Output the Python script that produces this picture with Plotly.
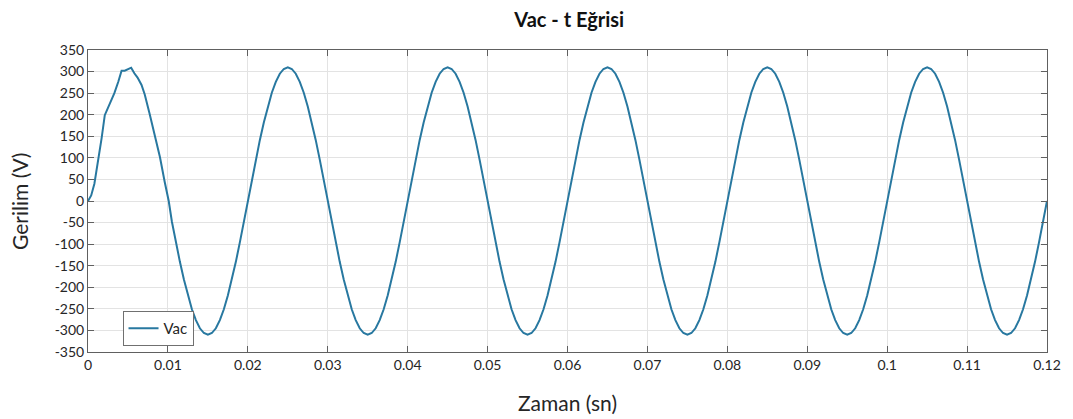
import plotly.graph_objects as go

# ---- data ----
# distorted start-up segment (t in s, V)
t_start = [0, 0.0004, 0.0008, 0.00125, 0.0017, 0.0021, 0.0023, 0.0028, 0.0033,
           0.0038, 0.0042, 0.0046, 0.0049, 0.0054, 0.0058, 0.0062, 0.0067,
           0.0071, 0.0077, 0.0083, 0.0090, 0.0096, 0.0101]
v_start = [0, 13, 40, 91, 145, 199, 207, 226, 250, 277, 302, 302, 304, 309,
           296, 286, 269, 247, 203, 153, 102, 44, 0]

# steady-state segment sampled every 0.5 ms from 0.0105 s to 0.12 s
t_steady_start = 0.0105
t_steady_step = 0.0005
v_steady = [
    -48, -96, -141, -182, -219, -251, -276, -295, -306, -310, -306, -295, -276, -251, -219, -182, -141, -96, -48, 0,
    48, 96, 141, 182, 219, 251, 276, 295, 306, 310, 306, 295, 276, 251, 219, 182, 141, 96, 48, 0,
    -48, -96, -141, -182, -219, -251, -276, -295, -306, -310, -306, -295, -276, -251, -219, -182, -141, -96, -48, 0,
    48, 96, 141, 182, 219, 251, 276, 295, 306, 310, 306, 295, 276, 251, 219, 182, 141, 96, 48, 0,
    -48, -96, -141, -182, -219, -251, -276, -295, -306, -310, -306, -295, -276, -251, -219, -182, -141, -96, -48, 0,
    48, 96, 141, 182, 219, 251, 276, 295, 306, 310, 306, 295, 276, 251, 219, 182, 141, 96, 48, 0,
    -48, -96, -141, -182, -219, -251, -276, -295, -306, -310, -306, -295, -276, -251, -219, -182, -141, -96, -48, 0,
    48, 96, 141, 182, 219, 251, 276, 295, 306, 310, 306, 295, 276, 251, 219, 182, 141, 96, 48, 0,
    -48, -96, -141, -182, -219, -251, -276, -295, -306, -310, -306, -295, -276, -251, -219, -182, -141, -96, -48, 0,
    48, 96, 141, 182, 219, 251, 276, 295, 306, 310, 306, 295, 276, 251, 219, 182, 141, 96, 48, 0,
    -48, -96, -141, -182, -219, -251, -276, -295, -306, -310, -306, -295, -276, -251, -219, -182, -141, -96, -48, 0,
]
t_steady = [round(t_steady_start + t_steady_step * i, 5) for i in range(len(v_steady))]

x_tick_vals = [0, 0.01, 0.02, 0.03, 0.04, 0.05, 0.06, 0.07, 0.08, 0.09, 0.1, 0.11, 0.12]
x_tick_text = ["0", "0.01", "0.02", "0.03", "0.04", "0.05", "0.06", "0.07", "0.08",
               "0.09", "0.1", "0.11", "0.12"]
y_tick_vals = [-350, -300, -250, -200, -150, -100, -50, 0, 50, 100, 150, 200, 250, 300, 350]
y_tick_text = ["-350", "-300", "-250", "-200", "-150", "-100", "-50", "0", "50", "100",
               "150", "200", "250", "300", "350"]

series_name = "Vac"
title_text = "Vac - t Eğrisi"
x_title = "Zaman (sn)"
y_title = "Gerilim (V)"

t_all = t_start + t_steady
v_all = v_start + v_steady

FONT = "Lato, 'Open Sans', sans-serif"
TXT = "#262626"

fig = go.Figure()
fig.add_trace(go.Scatter(x=t_all, y=v_all, mode="lines", name=series_name,
                         line=dict(color="#2878a0", width=2)))

axis_common = dict(
    showline=True, linecolor="#606060", linewidth=1, mirror="ticks",
    ticks="inside", ticklen=6, tickcolor="#606060",
    showgrid=True, gridcolor="#e3e3e3", gridwidth=1, zeroline=False,
    tickfont=dict(family=FONT, size=14, color=TXT),
)

fig.update_layout(
    width=1073, height=419,
    margin=dict(l=88, r=22, t=50, b=67),
    paper_bgcolor="white", plot_bgcolor="white",
    font=dict(family=FONT, color=TXT),
    title=dict(text="<b>" + title_text + "</b>", x=0.5305, xanchor="center",
               y=(419 - 20) / 419, yanchor="middle", yref="container",
               font=dict(family=FONT, size=20, color="#111111")),
    xaxis=dict(range=[0, 0.12], tickvals=x_tick_vals, ticktext=x_tick_text, **axis_common),
    yaxis=dict(range=[-350, 350], tickvals=y_tick_vals, ticktext=y_tick_text, **axis_common),
    showlegend=True,
    legend=dict(x=0.036, y=0.02, xanchor="left", yanchor="bottom",
                bgcolor="white", bordercolor="#707070", borderwidth=1,
                font=dict(family=FONT, size=15, color=TXT), itemwidth=30,
                tracegroupgap=0),
    annotations=[
        dict(text=x_title, xref="paper", yref="paper", x=0.5, y=-0.166,
             xanchor="center", yanchor="middle", showarrow=False,
             font=dict(family=FONT, size=21, color=TXT)),
        dict(text=y_title, xref="paper", yref="paper", x=-0.072, y=0.5,
             xanchor="center", yanchor="middle", showarrow=False, textangle=-90,
             font=dict(family=FONT, size=21, color=TXT)),
    ],
)

fig.write_html("out.html", config={"displayModeBar": False},
               post_script="document.body.style.margin='0';")
